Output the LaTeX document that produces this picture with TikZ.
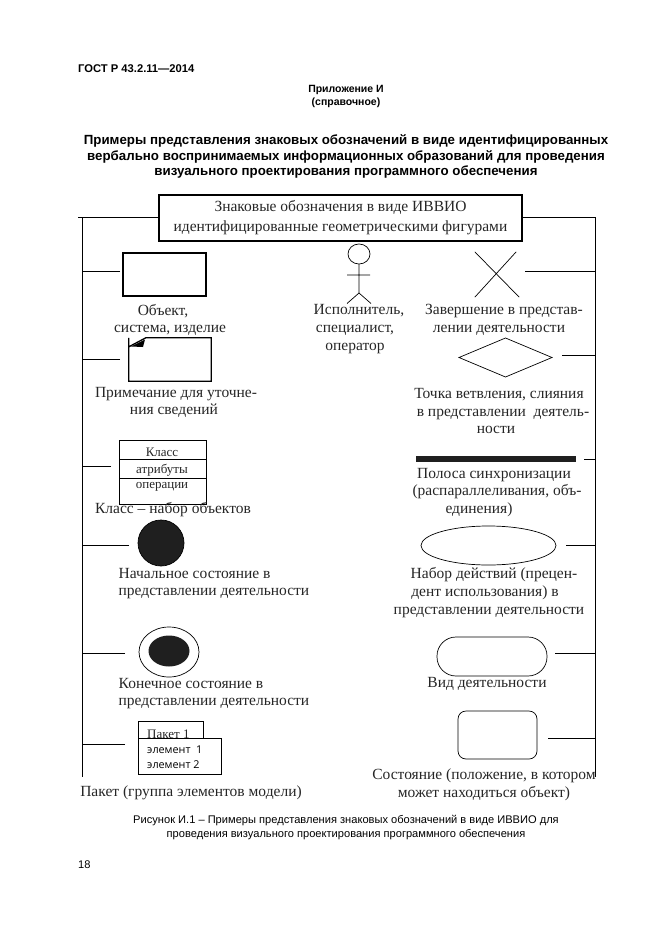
\documentclass[tikz,border=0pt]{standalone}
\usepackage{fontspec}
\setmainfont{Liberation Serif}
\setsansfont{Liberation Sans}
\usetikzlibrary{shapes.geometric}
\newfontfamily\elemfont{Open Sans}
\newcommand{\shft}[1]{\kern#1pt\relax}
\tikzset{
  lbl/.style={align=center,inner sep=0pt,font=\fontsize{15.5}{17.8}\selectfont,text=black!85},
  lblleft/.style={lbl,align=left,anchor=west},
  head/.style={align=center,inner sep=0pt,font=\sffamily\bfseries\fontsize{13.3}{15.5}\selectfont},
  capt/.style={align=center,inner sep=0pt,font=\sffamily\fontsize{11.1}{14}\selectfont},
  small/.style={inner sep=0pt,anchor=base,font=\fontsize{13}{14}\selectfont,text=black!85},
  fig/.style={draw,inner sep=0pt,outer sep=0pt,line width=0.7pt},
  stub/.style={line width=0.9pt},
}
\begin{document}
\begin{tikzpicture}[x=1pt,y=-1pt]
\useasboundingbox (0,0) rectangle (661,936);
% page text
\node[head,anchor=west,font=\sffamily\bfseries\fontsize{11.2}{14}\selectfont](gost) at (78,69){ГОСТ Р 43.2.11---2014};
\node[head,font=\sffamily\bfseries\fontsize{10.5}{13.5}\selectfont](app) at (346,96.5){Приложение И\\(справочное)};
\node[head](title) at (346,156.5){Примеры представления знаковых обозначений в виде идентифицированных\\вербально воспринимаемых информационных образований для проведения\\визуального проектирования программного обеспечения};
\node[capt](capt) at (346,828){Рисунок И.1 -- Примеры представления знаковых обозначений в виде ИВВИО для\\проведения визуального проектирования программного обеспечения};
\node[capt,anchor=west](page) at (78,865){18};
% main box
\node[fig,line width=2pt,minimum width=363pt,minimum height=46pt,lbl,text=black!85](main) at (340.5,217.5){Знаковые обозначения в виде ИВВИО\\[1.5pt]идентифицированные геометрическими фигурами};
% left column
\node[fig,line width=1.3pt,minimum width=83pt,minimum height=43pt](obj) at (164.5,274.5){};
\node[lbl](objt) at (170,320){Объект,\shft{14}\\система, изделие};
\node[inner sep=0pt,minimum width=82pt,minimum height=43pt](note) at (170,359.5){};
\draw[line width=1.3pt,line join=miter] (note.north west)++(0,9)--++(17,-9)-|(note.south east)-|(note.north west)--++(0,9);
\fill (131,346.5)--(145,339.5)--(143,347)--cycle;
\node[lbl](notet) at (176,402.5){Примечание для уточне-\\ния сведений\shft{4}};
\node[fig,minimum width=87pt,minimum height=64pt](cls) at (162.5,472){};
\draw[line width=0.7pt] (119,459)--(206,459) (119,478)--(206,478);
\node[small](clsa) at (162,456){Класс};
\node[small](clsb) at (162,473){атрибуты};
\node[small](clsc) at (162,488){операции};
\node[lbl](clst) at (173,509.5){Класс -- набор объектов};
\node[fig,fill=black!88,circle,minimum size=46pt](init) at (161,543){};
\node[lblleft](initt) at (118.5,583.5){Начальное состояние в\\представлении деятельности};
\node[fig,ellipse,minimum width=60pt,minimum height=50pt](fin) at (169,652){};
\node[ellipse,fill=black!88,inner sep=0pt,minimum width=41pt,minimum height=31pt](fini) at (169,651){};
\node[lblleft](fint) at (118.5,693.5){Конечное состояние в\\представлении деятельности};
\node[fig,minimum width=65pt,minimum height=20pt](pkgt) at (170.5,731){};
\node[small,anchor=base west](pkgl) at (147,738){Пакет 1};
\node[fig,fill=white,minimum width=83pt,minimum height=36pt](pkg) at (179.5,756){};
\node[anchor=west,inner sep=0pt,align=left,font=\elemfont\fontsize{10.8}{15}\selectfont](pkge) at (147,757.5){элемент\ \ 1\\элемент 2};
\node[lbl](pkgtt) at (191,793){Пакет (группа элементов модели)};
% right column
\node[fig,ellipse,minimum width=22pt,minimum height=20pt](hd) at (359,254){};
\coordinate(hip) at (359,293);
\draw[line width=0.7pt] (hd.south)--(hip) (347,275)--(370,275) (347,303.5)--(hip)--(371,303.5);
\node[lbl](pert) at (355,329){\shft{8}Исполнитель,\\специалист,\\оператор};
\node[inner sep=0pt,minimum width=44pt,minimum height=45pt](fns) at (497,274.5){};
\draw[line width=0.7pt] (fns.north west)--(fns.south east) ([xshift=-3pt]fns.north east)--(fns.south west);
\node[lbl](fnst) at (504,320){Завершение в представ-\\лении деятельности\shft{10}};
\node[fig,diamond,aspect=2.4,minimum width=93pt,minimum height=39pt](dec) at (505.5,357.5){};
\node[lbl](dect) at (503,411){Точка ветвления, слияния\shft{8}\\в представлении\ \ деятель-\\ности\shft{14}};
\node[fill=black!88,inner sep=0pt,minimum width=160pt,minimum height=6pt](bar) at (496,459){};
\node[lbl](bart) at (497,492.5){Полоса синхронизации\shft{6}\\(распараллеливания, объ-\\единения)\shft{36}};
\node[fig,ellipse,minimum width=135pt,minimum height=39pt](act) at (488.5,545.5){};
\node[lbl](actt) at (489,592.5){\shft{10}Набор действий (прецен-\\дент использования) в\shft{8}\\представлении деятельности};
\node[fig,rounded corners=19pt,minimum width=110pt,minimum height=39pt](kind) at (492,656.5){};
\node[lbl](kindt) at (487,684){Вид деятельности};
\node[fig,rounded corners=8pt,minimum width=79pt,minimum height=48pt](st) at (497.5,735){};
\node[lbl](stt) at (484,784.5){Состояние (положение, в котором\\может находиться объект)};
% bus lines
\coordinate(lt) at (82,217.5);\coordinate(lb) at (82,777);
\coordinate(rt) at (595,217);\coordinate(rb) at (595,777);
\draw[stub] (lt)--(lb);
\draw[stub] (main.west|-lt)--(78,217.5);
\draw[stub] (main.east|-rt)--(rt)--(rb);
\foreach \p/\yy/\xx in {obj/271/120,note/359/120,cls/466/111,init/545/129,fin/653/125,pkg/744/125}{
  \coordinate(\p s) at (\xx,\yy);
  \draw[stub] (\p s)--(\p s-|lt);
}
\foreach \p/\yy/\xx in {fns/271/525,dec/355/562,bar/459/584,act/545/566,kind/653/555,st/738/548}{
  \coordinate(\p s) at (\xx,\yy);
  \draw[stub] (\p s)--(\p s-|rt);
}
\end{tikzpicture}
\end{document}
